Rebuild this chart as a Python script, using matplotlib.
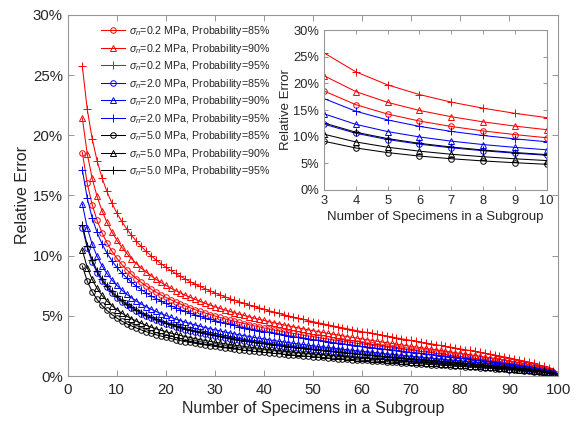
import matplotlib
matplotlib.use("Agg")
import matplotlib.pyplot as plt
from matplotlib.ticker import FuncFormatter, MultipleLocator

plt.rcParams['font.family'] = ['Liberation Sans', 'DejaVu Sans']
plt.rcParams['mathtext.fontset'] = 'custom'
plt.rcParams['mathtext.it'] = 'Liberation Sans:italic'
plt.rcParams['mathtext.rm'] = 'Liberation Sans'

n_specimens = list(range(3, 101))

# relative error in percent, n = 3 .. 100
red_85 = [18.57,16.00,14.24,12.93,11.91,11.08,10.39,9.80,9.29,8.85,8.45,8.10,7.78,7.48,7.22,6.97,6.74,6.53,6.34,6.15,
          5.98,5.81,5.66,5.51,5.37,5.24,5.11,4.99,4.87,4.76,4.65,4.55,4.45,4.36,4.26,4.17,4.09,4.00,3.92,3.84,
          3.76,3.68,3.61,3.54,3.47,3.40,3.33,3.27,3.20,3.14,3.08,3.01,2.95,2.90,2.84,2.78,2.72,2.67,2.61,2.56,
          2.50,2.45,2.40,2.34,2.29,2.24,2.19,2.14,2.09,2.04,1.99,1.94,1.89,1.84,1.79,1.73,1.68,1.63,1.58,1.53,
          1.48,1.43,1.37,1.32,1.26,1.21,1.15,1.09,1.03,0.96,0.90,0.83,0.75,0.67,0.57,0.47,0.33,0.0]
red_90 = [21.43,18.46,16.43,14.92,13.74,12.78,11.98,11.31,10.72,10.21,9.75,9.34,8.97,8.64,8.33,8.04,7.78,7.54,7.31,7.10,
          6.90,6.71,6.53,6.36,6.20,6.04,5.90,5.76,5.62,5.49,5.37,5.25,5.14,5.03,4.92,4.81,4.71,4.62,4.52,4.43,
          4.34,4.25,4.17,4.08,4.00,3.92,3.84,3.77,3.69,3.62,3.55,3.48,3.41,3.34,3.27,3.21,3.14,3.08,3.01,2.95,
          2.89,2.83,2.77,2.71,2.64,2.59,2.53,2.47,2.41,2.35,2.29,2.23,2.18,2.12,2.06,2.00,1.94,1.88,1.83,1.77,
          1.71,1.64,1.58,1.52,1.46,1.39,1.32,1.26,1.19,1.11,1.03,0.95,0.86,0.77,0.66,0.54,0.38,0.0]
red_95 = [25.72,22.16,19.71,17.90,16.48,15.34,14.38,13.57,12.86,12.25,11.70,11.21,10.77,10.36,9.99,9.65,9.34,9.05,8.77,8.52,
          8.28,8.05,7.83,7.63,7.44,7.25,7.08,6.91,6.75,6.59,6.44,6.30,6.16,6.03,5.90,5.78,5.66,5.54,5.43,5.31,
          5.21,5.10,5.00,4.90,4.80,4.71,4.61,4.52,4.43,4.35,4.26,4.17,4.09,4.01,3.93,3.85,3.77,3.69,3.62,3.54,
          3.47,3.39,3.32,3.25,3.17,3.10,3.03,2.96,2.89,2.82,2.75,2.68,2.61,2.54,2.47,2.40,2.33,2.26,2.19,2.12,
          2.05,1.97,1.90,1.82,1.75,1.67,1.59,1.51,1.42,1.33,1.24,1.14,1.04,0.92,0.80,0.65,0.45,0.0]
blue_85 = [12.34,10.64,9.46,8.59,7.91,7.36,6.90,6.51,6.17,5.88,5.62,5.38,5.17,4.97,4.80,4.63,4.48,4.34,4.21,4.09,
           3.97,3.86,3.76,3.66,3.57,3.48,3.40,3.32,3.24,3.16,3.09,3.02,2.96,2.89,2.83,2.77,2.72,2.66,2.60,2.55,
           2.50,2.45,2.40,2.35,2.31,2.26,2.21,2.17,2.13,2.09,2.04,2.00,1.96,1.92,1.89,1.85,1.81,1.77,1.74,1.70,
           1.66,1.63,1.59,1.56,1.52,1.49,1.46,1.42,1.39,1.35,1.32,1.29,1.25,1.22,1.19,1.15,1.12,1.09,1.05,1.02,
           0.98,0.95,0.91,0.88,0.84,0.80,0.76,0.72,0.68,0.64,0.60,0.55,0.50,0.44,0.38,0.31,0.22,0.0]
blue_90 = [14.29,12.31,10.95,9.95,9.16,8.52,7.99,7.54,7.15,6.80,6.50,6.23,5.98,5.76,5.55,5.36,5.19,5.03,4.87,4.73,
           4.60,4.47,4.35,4.24,4.13,4.03,3.93,3.84,3.75,3.66,3.58,3.50,3.42,3.35,3.28,3.21,3.14,3.08,3.01,2.95,
           2.89,2.83,2.78,2.72,2.67,2.62,2.56,2.51,2.46,2.41,2.37,2.32,2.27,2.23,2.18,2.14,2.09,2.05,2.01,1.97,
           1.93,1.88,1.84,1.80,1.76,1.72,1.68,1.65,1.61,1.57,1.53,1.49,1.45,1.41,1.37,1.33,1.30,1.26,1.22,1.18,
           1.14,1.10,1.06,1.01,0.97,0.93,0.88,0.84,0.79,0.74,0.69,0.63,0.58,0.51,0.44,0.36,0.25,0.0]
blue_95 = [17.14,14.77,13.14,11.93,10.99,10.22,9.59,9.05,8.58,8.17,7.80,7.47,7.18,6.91,6.66,6.44,6.23,6.03,5.85,5.68,
           5.52,5.37,5.22,5.09,4.96,4.83,4.72,4.61,4.50,4.40,4.30,4.20,4.11,4.02,3.93,3.85,3.77,3.69,3.62,3.54,
           3.47,3.40,3.33,3.27,3.20,3.14,3.08,3.02,2.96,2.90,2.84,2.78,2.73,2.67,2.62,2.57,2.51,2.46,2.41,2.36,
           2.31,2.26,2.21,2.16,2.12,2.07,2.02,1.97,1.93,1.88,1.83,1.79,1.74,1.69,1.65,1.60,1.55,1.51,1.46,1.41,
           1.36,1.32,1.27,1.22,1.17,1.11,1.06,1.01,0.95,0.89,0.83,0.76,0.69,0.62,0.53,0.43,0.30,0.0]
black_85 = [9.14,7.88,7.01,6.36,5.86,5.45,5.11,4.82,4.57,4.35,4.16,3.99,3.83,3.68,3.55,3.43,3.32,3.22,3.12,3.03,
            2.94,2.86,2.79,2.71,2.64,2.58,2.52,2.46,2.40,2.34,2.29,2.24,2.19,2.14,2.10,2.05,2.01,1.97,1.93,1.89,
            1.85,1.81,1.78,1.74,1.71,1.67,1.64,1.61,1.58,1.54,1.51,1.48,1.45,1.43,1.40,1.37,1.34,1.31,1.29,1.26,
            1.23,1.21,1.18,1.15,1.13,1.10,1.08,1.05,1.03,1.00,0.98,0.95,0.93,0.90,0.88,0.85,0.83,0.80,0.78,0.75,
            0.73,0.70,0.68,0.65,0.62,0.59,0.57,0.54,0.51,0.47,0.44,0.41,0.37,0.33,0.28,0.23,0.16,0.0]
black_90 = [10.46,9.01,8.02,7.28,6.70,6.24,5.85,5.52,5.23,4.98,4.76,4.56,4.38,4.21,4.06,3.93,3.80,3.68,3.57,3.46,
            3.37,3.27,3.19,3.10,3.02,2.95,2.88,2.81,2.74,2.68,2.62,2.56,2.51,2.45,2.40,2.35,2.30,2.25,2.21,2.16,
            2.12,2.07,2.03,1.99,1.95,1.91,1.88,1.84,1.80,1.77,1.73,1.70,1.66,1.63,1.60,1.57,1.53,1.50,1.47,1.44,
            1.41,1.38,1.35,1.32,1.29,1.26,1.23,1.20,1.18,1.15,1.12,1.09,1.06,1.03,1.01,0.98,0.95,0.92,0.89,0.86,
            0.83,0.80,0.77,0.74,0.71,0.68,0.65,0.61,0.58,0.54,0.50,0.46,0.42,0.38,0.32,0.26,0.18,0.0]
black_95 = [12.57,10.83,9.64,8.75,8.06,7.50,7.03,6.63,6.29,5.99,5.72,5.48,5.26,5.07,4.89,4.72,4.57,4.42,4.29,4.16,
            4.05,3.93,3.83,3.73,3.64,3.55,3.46,3.38,3.30,3.22,3.15,3.08,3.01,2.95,2.89,2.82,2.77,2.71,2.65,2.60,
            2.55,2.49,2.44,2.40,2.35,2.30,2.26,2.21,2.17,2.12,2.08,2.04,2.00,1.96,1.92,1.88,1.84,1.81,1.77,1.73,
            1.69,1.66,1.62,1.59,1.55,1.52,1.48,1.45,1.41,1.38,1.34,1.31,1.28,1.24,1.21,1.17,1.14,1.11,1.07,1.04,
            1.00,0.96,0.93,0.89,0.85,0.82,0.78,0.74,0.70,0.65,0.61,0.56,0.51,0.45,0.39,0.32,0.22,0.0]

sigma_labels = ['0.2', '2.0', '5.0']
prob_labels = ['85%', '90%', '95%']
series = [red_85, red_90, red_95, blue_85, blue_90, blue_95, black_85, black_90, black_95]
colors = ['#ff0000'] * 3 + ['#0000ff'] * 3 + ['#000000'] * 3
markers = ['o', '^', '+'] * 3
labels = [r'$\sigma_n$=%s MPa, Probability=%s' % (s, p) for s in sigma_labels for p in prob_labels]

x_ticks = list(range(0, 101, 10))
inset_x_ticks = list(range(3, 11))

frame_col = '#969696'
text_col = '#262626'
pct = FuncFormatter(lambda v, pos: '%d%%' % round(v))


def msize(m):
    return 5.2 if m == '+' else 4.0


fig = plt.figure(figsize=(5.78, 4.22), dpi=100)
ax = fig.add_axes([0.117, 0.109, 0.849, 0.8555])

for ys, c, m, lab in zip(series, colors, markers, labels):
    ax.plot(n_specimens, ys, color=c, marker=m, markersize=msize(m),
            markerfacecolor='none', markeredgewidth=0.7, linewidth=0.75, label=lab)

ax.set_xlim(0, 100)
ax.set_ylim(0, 30)
ax.set_xticks(x_ticks)
ax.yaxis.set_major_locator(MultipleLocator(5))
ax.yaxis.set_major_formatter(pct)
ax.tick_params(direction='in', top=True, right=True, length=4, width=0.7,
               colors=frame_col, labelcolor=text_col, labelsize=10.8)
ax.tick_params(axis='x', pad=5)
for sp in ax.spines.values():
    sp.set_color(frame_col)
    sp.set_linewidth(0.8)
ax.set_xlabel('Number of Specimens in a Subgroup', fontsize=11.5, color=text_col, labelpad=3)
ax.set_ylabel('Relative Error', fontsize=11.5, color=text_col, labelpad=2)

leg = ax.legend(loc='upper left', bbox_to_anchor=(0.069, 0.975), frameon=False,
                fontsize=7.7, handlelength=2.2, handletextpad=0.4, labelspacing=0.33,
                borderpad=0, borderaxespad=0)
for t in leg.get_texts():
    t.set_color(text_col)

ins = fig.add_axes([0.5606, 0.5498, 0.3853, 0.379])
for ys, c, m in zip(series, colors, markers):
    ins.plot(n_specimens[:8], ys[:8], color=c, marker=m, markersize=msize(m),
             markerfacecolor='none', markeredgewidth=0.7, linewidth=0.75)
ins.set_xlim(3, 10)
ins.set_ylim(0, 30)
ins.set_xticks(inset_x_ticks)
ins.yaxis.set_major_locator(MultipleLocator(5))
ins.yaxis.set_major_formatter(pct)
ins.tick_params(direction='in', top=True, right=True, length=3, width=0.7,
                colors=frame_col, labelcolor=text_col, labelsize=9.3)
for sp in ins.spines.values():
    sp.set_color(frame_col)
    sp.set_linewidth(0.8)
ins.set_xlabel('Number of Specimens in a Subgroup', fontsize=9.5, color=text_col, labelpad=3)
ins.set_ylabel('Relative Error', fontsize=9.5, color=text_col, labelpad=1)

fig.savefig('out.png', dpi=100)
